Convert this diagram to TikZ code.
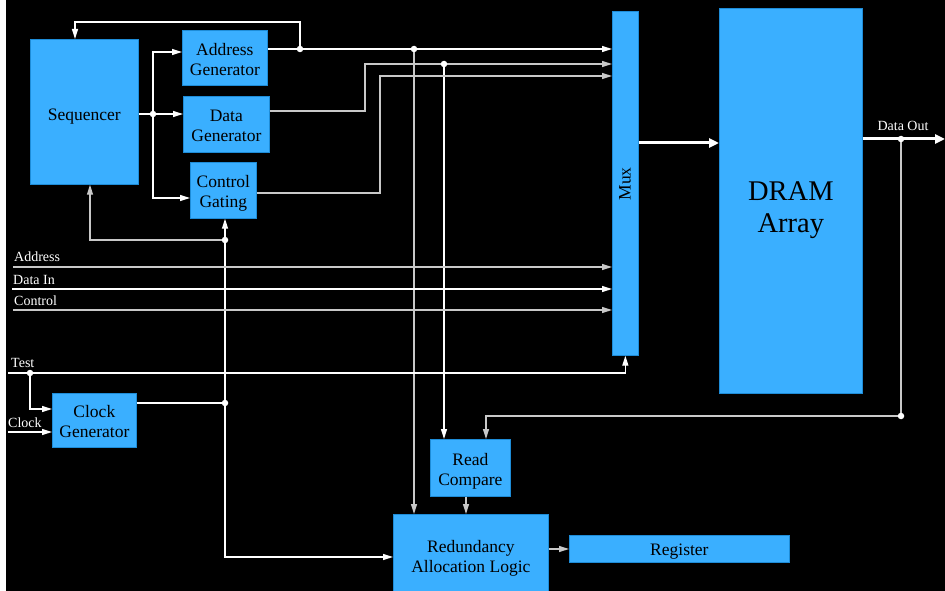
\documentclass[tikz,border=0pt]{standalone}
\usepackage{fontspec}
\setmainfont{Liberation Serif}
\usetikzlibrary{arrows.meta}
\definecolor{boxblue}{RGB}{58,175,255}
\definecolor{boxedge}{RGB}{30,140,215}
\definecolor{wgray}{RGB}{200,200,200}
\tikzset{
  blk/.style={draw=boxedge, line width=0.7pt, fill=boxblue, inner sep=0pt, anchor=north west},
  btxt/.style={align=center, text=black, inner sep=0pt, font=\fontsize{17.5}{20}\selectfont},
  wire/.style={draw=white, line width=1.3pt},
  gwire/.style={draw=wgray, line width=1.3pt},
  arr/.style={-{Triangle[length=10pt,width=6pt]}},
  fatarr/.style={draw=white, line width=3pt, -{Triangle[length=10pt,width=9pt]}},
  dot/.style={circle, fill=white, inner sep=0pt, minimum size=6.5pt},
  lbl/.style={text=white, font=\fontsize{14}{16}\selectfont, inner sep=0pt, anchor=base west},
}
\begin{document}
\begin{tikzpicture}[x=1pt,y=-1pt]
\fill[white] (0,0) rectangle (945,591);
\fill[black] (6,0) rectangle (945,591);
\clip (0,0) rectangle (945,591);

% blocks
\node[blk, minimum width=108pt, minimum height=145pt,
  label={[btxt, yshift=-5pt]center:Sequencer}] (seq) at (30,39) {};
\node[blk, minimum width=85pt, minimum height=55pt,
  label={[btxt, yshift=-2pt]center:Address\\Generator}] (ag) at (182,30) {};
\node[blk, minimum width=86pt, minimum height=56pt,
  label={[btxt, yshift=-2pt]center:Data\\Generator}] (dg) at (183,96) {};
\node[blk, minimum width=66pt, minimum height=56pt,
  label={[btxt, yshift=-3pt]center:Control\\Gating}] (cg) at (190,162) {};
\node[blk, minimum width=26pt, minimum height=344pt] (mux) at (612,11) {};
\node[btxt, rotate=90] (muxt) at (625,184) {Mux};
\node[blk, minimum width=143pt, minimum height=385pt,
  label={[btxt, font=\fontsize{28.5}{32}\selectfont, yshift=-9pt]center:DRAM\\Array}] (dram) at (719,8) {};
\node[blk, minimum width=84pt, minimum height=54pt,
  label={[btxt, yshift=-1pt]center:Clock\\Generator}] (clk) at (52,393) {};
\node[blk, minimum width=80pt, minimum height=57pt,
  label={[btxt, yshift=-3pt]center:Read\\Compare}] (rc) at (430,439) {};
\node[blk, minimum width=155pt, minimum height=86pt,
  label={[btxt, yshift=-1pt]center:Redundancy\\Allocation Logic}] (ral) at (393,514) {};
\node[blk, minimum width=220pt, minimum height=27pt,
  label={[btxt, yshift=-2.5pt]center:Register}] (reg) at (569,535) {};

% junctions and free ends
\coordinate (jA) at (300,49);
\coordinate (jB) at (414,49);
\coordinate (jC) at (444,64);
\coordinate (jS) at (153,114);
\coordinate (jK) at (225,240);
\coordinate (jL) at (225,403);
\coordinate (jT) at (30,373);
\coordinate (jD) at (901,139);
\coordinate (jE) at (901,416);
\coordinate (cT) at (75,22);
\coordinate (inA) at (13,267);
\coordinate (inD) at (12,289);
\coordinate (inC) at (13,310);
\coordinate (inT) at (8,373);
\coordinate (inK) at (8,432);
\coordinate (outD) at (945,139);

% address generator output and feedback to sequencer
\draw[wire, arr] (ag.east |- jA) -- (mux.west |- jA);
\draw[wire, arr] (jA) |- (cT) -- (cT |- seq.north);
\draw[gwire, arr] (jB) -- (jB |- ral.north);

% data generator output
\draw[gwire, arr] (dg.east |- 0,111) -| (365,64) -- (mux.west |- jC);
\draw[wire, arr] (jC) -- (jC |- rc.north);

% control gating output
\draw[gwire, arr] (cg.east |- 0,193) -| (380,76) -- (mux.west |- 0,76);

% sequencer distribution
\draw[wire, arr] (seq.east |- jS) -- (dg.west |- jS);
\draw[wire, arr] (jS) |- (ag.west |- 0,52);
\draw[wire, arr] (jS) |- (cg.west |- 0,198);

% clock distribution
\draw[wire] (clk.east |- jL) -- (jL);
\draw[wire] (jL) -- (jK);
\draw[wire, arr] (jK) -- (jK |- cg.south);
\draw[gwire, arr] (jK) -| (seq.south -| 90,0);
\draw[wire, arr] (jL) |- (ral.west |- 0,557);

% external inputs
\node[lbl] (tA) at (14,261) {Address};
\node[lbl] (tD) at (13,284) {Data In};
\node[lbl] (tC) at (14,305) {Control};
\node[lbl] (tT) at (11,367) {Test};
\node[lbl] (tK) at (8,427) {Clock};
\draw[gwire, arr] (inA) -- (mux.west |- inA);
\draw[wire, arr] (inD) -- (mux.west |- inD);
\draw[gwire, arr] (inC) -- (mux.west |- inC);
\draw[wire, arr] (inT) -| (mux.south);
\draw[wire, arr] (jT) |- (clk.west |- 0,409);
\draw[wire, arr] (inK) -- (clk.west |- inK);

% mux to DRAM, data out
\draw[fatarr] (mux.east |- 0,143) -- (dram.west |- 0,143);
\draw[fatarr] (dram.east |- jD) -- (outD);
\node[text=white, font=\fontsize{14}{16}\selectfont, inner sep=0pt, anchor=base] (tO) at (903,131) {Data Out};
\draw[gwire, arr] (jD) -- (jE) -| (rc.north -| 486,0);

% compare -> redundancy -> register
\draw[gwire, arr] (rc.south -| 466,0) -- (ral.north -| 466,0);
\draw[gwire, arr] (ral.east |- 0,549) -- (reg.west |- 0,549);

% dots
\foreach \p in {jA,jB,jC,jS,jK,jL,jT,jD,jE} \node[dot] at (\p) {};
\end{tikzpicture}
\end{document}
